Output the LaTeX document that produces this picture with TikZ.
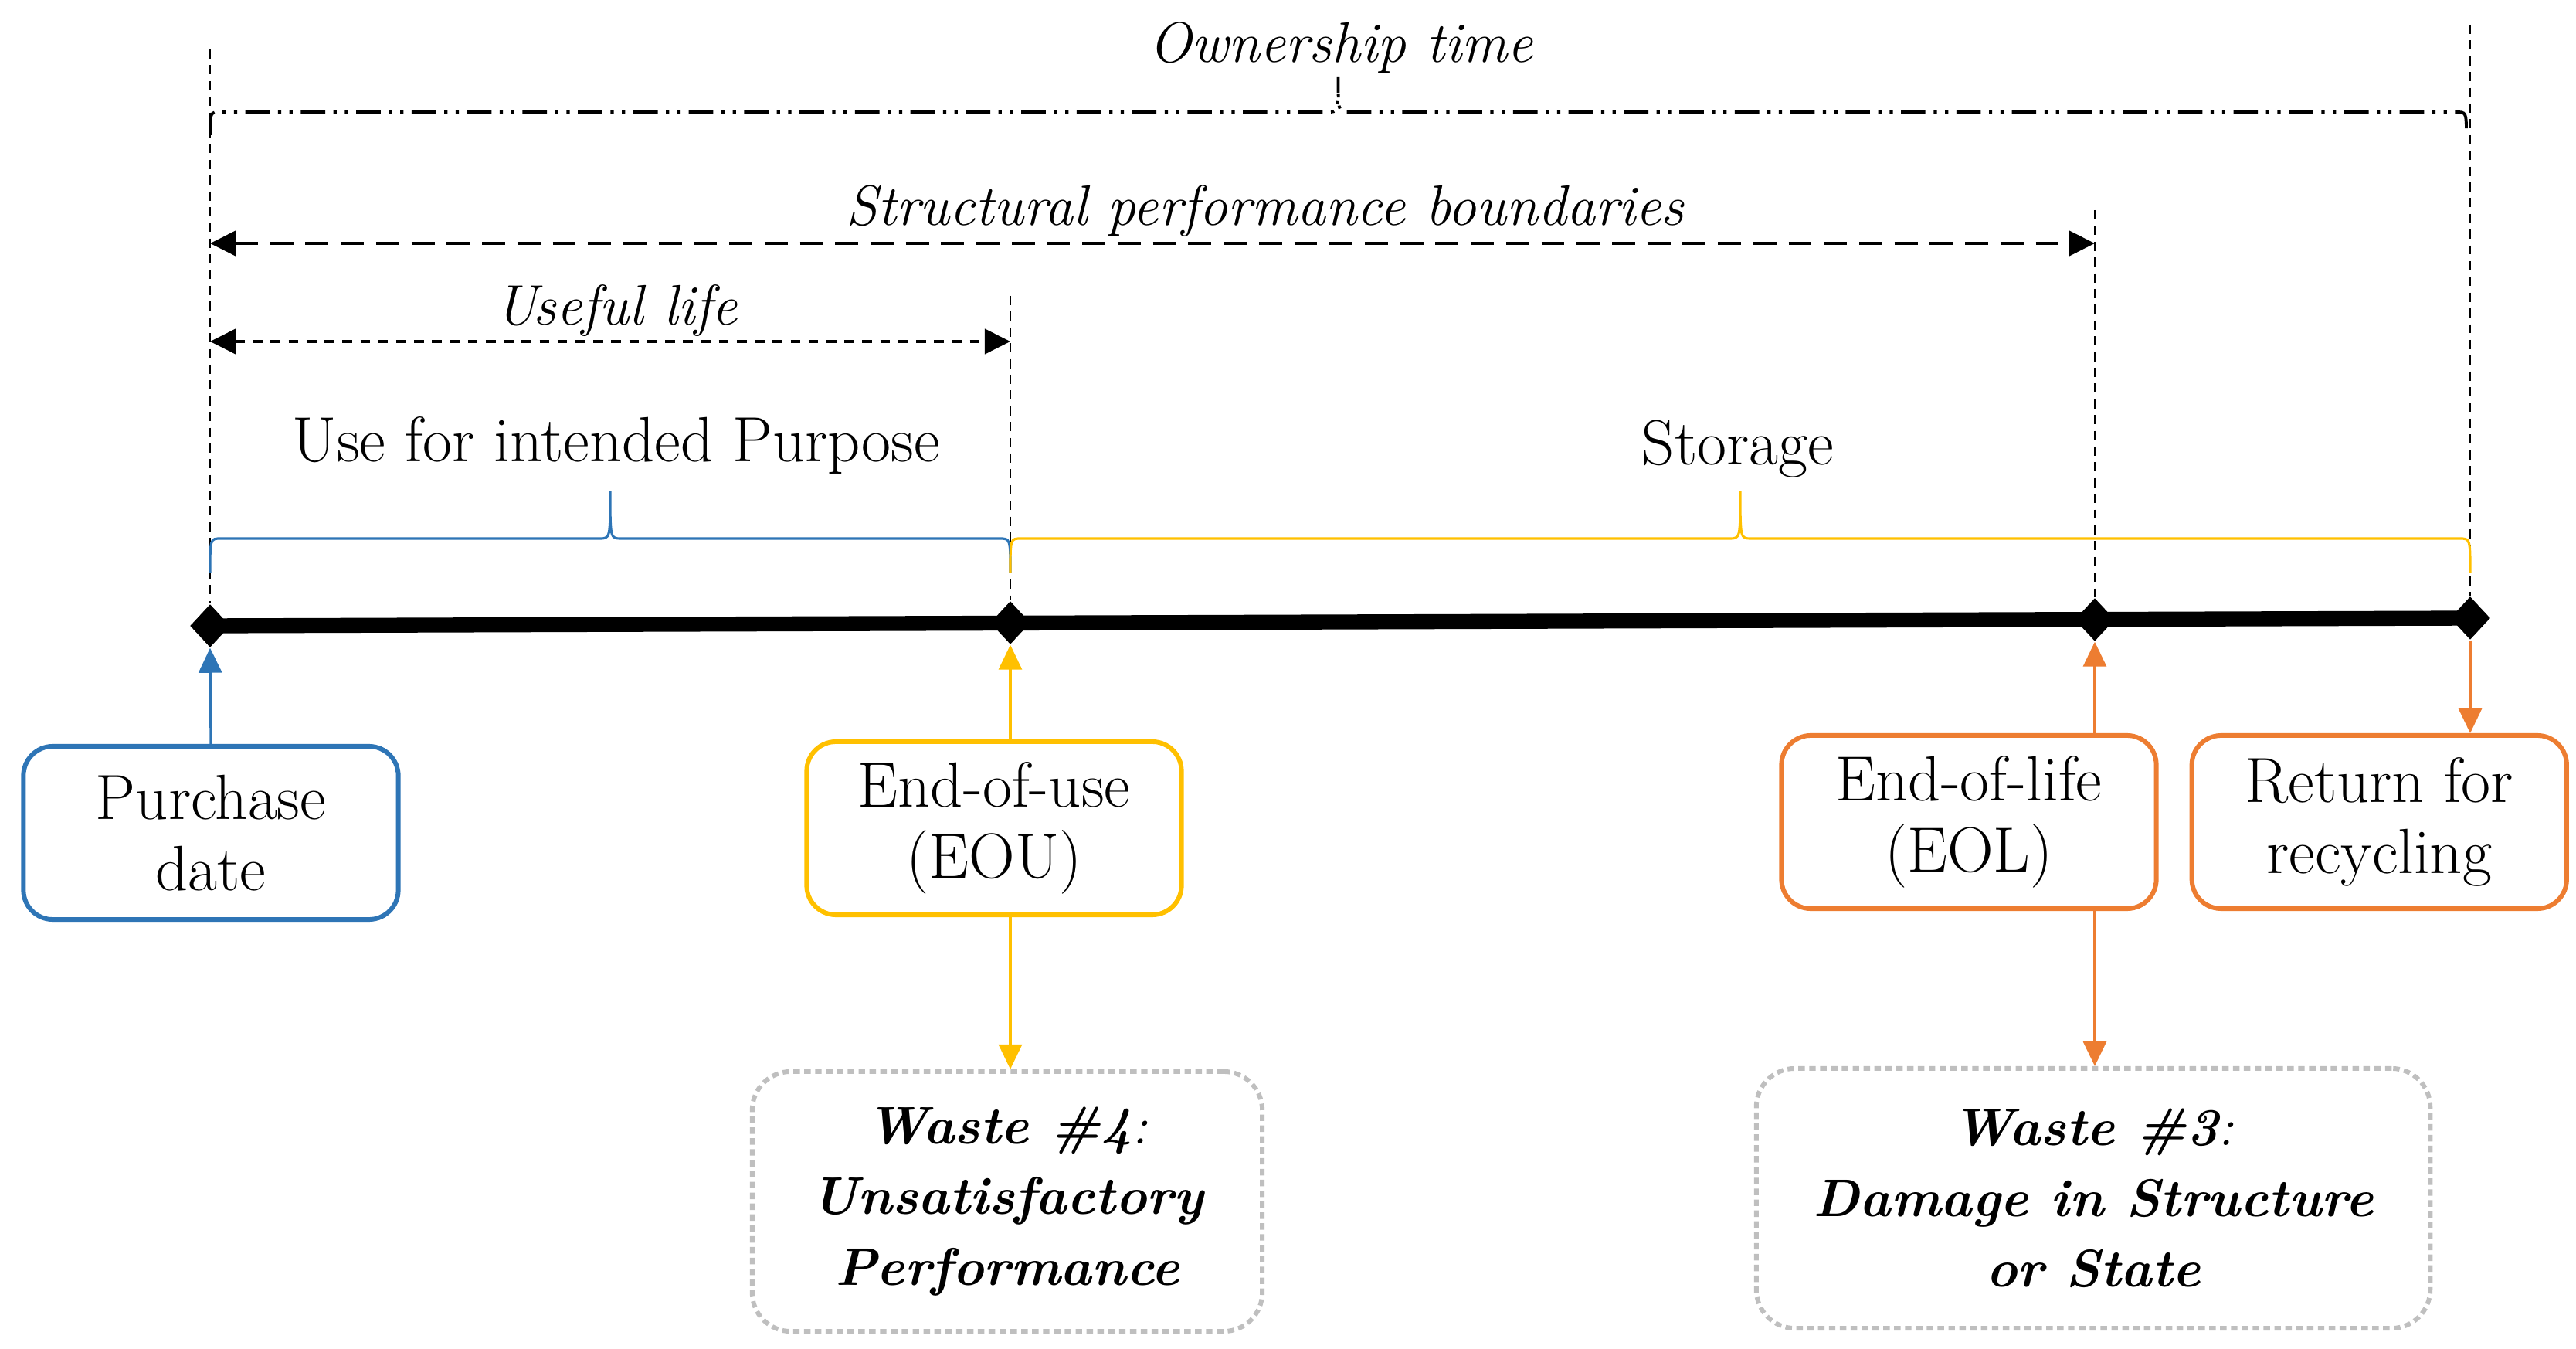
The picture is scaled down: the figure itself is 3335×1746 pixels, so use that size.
\documentclass[tikz,border=0pt]{standalone}
\usepackage{xcolor}
\usepackage{tikz}
\usetikzlibrary{arrows.meta,positioning,shapes.geometric}
\definecolor{phaseblue}{HTML}{2E75B6}
\definecolor{phaseyellow}{HTML}{FFC000}
\definecolor{phaseorange}{HTML}{ED7D31}
\definecolor{wastegray}{HTML}{BFBFBF}

\newcommand{\spanbrace}[6]{%
  \draw[#1] (#2,#5) .. controls (#2,#4) .. ({#2+14},#4)
    -- ({(#2+#3)/2-14},#4) .. controls ({(#2+#3)/2},#4) .. ({(#2+#3)/2},#6)
    .. controls ({(#2+#3)/2},#4) .. ({(#2+#3)/2+14},#4)
    -- ({#3-14},#4) .. controls (#3,#4) .. (#3,#5);}

\begin{document}
\begin{tikzpicture}[
  x=0.01cm, y=-0.01cm,
  font=\fontsize{23.5}{26}\selectfont,
  phase/.style={draw=#1,line width=1.7pt,rounded corners=0.38cm,fill=white,
                minimum width=4.85cm,minimum height=2.24cm,align=center,inner sep=2pt},
  waste/.style={draw=wastegray,line width=1.7pt,dash pattern=on 2.4pt off 1.6pt,
                rounded corners=0.5cm,minimum height=3.36cm,align=center,
                font=\fontsize{19.5}{26}\selectfont\bfseries\itshape},
  marker/.style={diamond,fill=black,inner sep=0pt,minimum width=0.52cm,minimum height=0.56cm},
  guide/.style={dash pattern=on 3.4pt off 2.4pt,line width=0.6pt},
  link/.style={-{Triangle[length=0.32cm,width=0.3cm]},line width=0.9pt,draw=#1},
  span/.style={{Triangle[length=0.33cm,width=0.32cm]}-{Triangle[length=0.33cm,width=0.32cm]},
               line width=1.1pt},
  spanlabel/.style={anchor=base,font=\fontsize{21}{26}\selectfont\itshape},
  phaselabel/.style={anchor=base}
]
\useasboundingbox (0,0) rectangle (3335,1746);
\node[marker] (d1) at (272,810) {};
\node[marker] (d2) at (1308,806) {};
\node[marker] (d3) at (2712,802) {};
\node[marker] (d4) at (3198,800) {};
\draw[line width=5.5pt] (d1.center) -- (d4.center);

\coordinate (top1) at (272,64);
\coordinate (top2) at (1308,383);
\coordinate (top3) at (2712,272);
\coordinate (top4) at (3198,32);
\draw[guide] (top1) -- (d1.north);
\draw[guide] (top2) -- (d2.north);
\draw[guide] (top3) -- (d3.north);
\draw[guide] (top4) -- (d4.north);

\spanbrace{line width=1.1pt,dash pattern=on 9pt off 3pt on 1.2pt off 3pt on 1.2pt off 3pt}{272}{3193}{145}{175}{100}
\spanbrace{draw=phaseblue,line width=0.9pt}{272}{1308}{697}{741}{636}
\spanbrace{draw=phaseyellow,line width=0.9pt}{1308}{3198}{697}{741}{636}

\coordinate (rowstruct) at (0,315);
\coordinate (rowuseful) at (0,442);
\draw[span,dash pattern=on 8.5pt off 4.5pt] (d1 |- rowstruct) -- (d3 |- rowstruct);
\draw[span,dash pattern=on 3.6pt off 3pt] (d1 |- rowuseful) -- (d2 |- rowuseful);

\node[spanlabel] (ownlbl) at (1736,81) {Ownership time};
\node[spanlabel] (structlbl) at (1638,292) {Structural performance boundaries};
\node[spanlabel] (usefullbl) at (798,421) {Useful life};
\node[phaselabel] (uselbl) at (798,598) {Use for intended Purpose};
\node[phaselabel] (storelbl) at (2250,602) {Storage};

\node[phase=phaseblue] (purchase) at (273,1078) {Purchase\\date};
\node[phase=phaseyellow] (eou) at (1287,1072) {End-of-use\\(EOU)};
\node[phase=phaseorange] (eol) at (2549,1064) {End-of-life\\(EOL)};
\node[phase=phaseorange,right=0.4cm of eol] (recycle) {Return for\\recycling};
\node[waste,minimum width=6.6cm] (waste4) at (1304,1555) {Waste \#4{\mdseries:}\\Unsatisfactory\\Performance};
\node[waste,minimum width=8.72cm] (waste3) at (2710,1551) {Waste \#3{\mdseries:}\\Damage in Structure\\or State};

\draw[link=phaseblue] (purchase.north) -- (d1.south);
\draw[link=phaseyellow] (eou.north -| d2) -- (d2.south);
\draw[link=phaseyellow] (eou.south -| d2) -- (waste4.north -| d2);
\draw[link=phaseorange] (eol.north -| d3) -- (d3.south);
\draw[link=phaseorange] (eol.south -| d3) -- (waste3.north -| d3);
\draw[link=phaseorange] (d4.south) -- (recycle.north -| d4);
\end{tikzpicture}
\end{document}
